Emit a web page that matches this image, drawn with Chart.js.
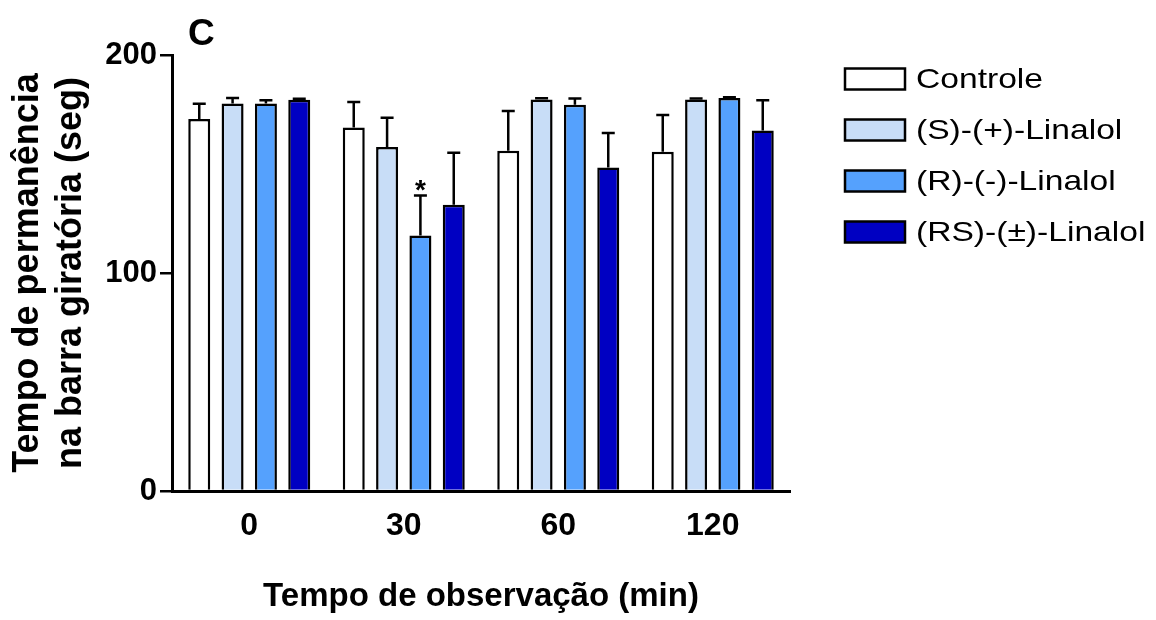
<!DOCTYPE html>
<html>
<head>
<meta charset="utf-8">
<script src="https://cdn.jsdelivr.net/npm/chart.js@4.4.1/dist/chart.umd.min.js"></script>
<style>
  html, body { margin: 0; padding: 0; background: #fff; }
  #wrap { width: 1156px; height: 620px; position: relative; }
</style>
</head>
<body>
<div id="wrap"><canvas id="myChart" width="1156" height="620"></canvas></div>
<script>
// data
const categories = ['0', '30', '60', '120'];
const seriesNames = ['Controle', '(S)-(+)-Linalol', '(R)-(-)-Linalol', '(RS)-(±)-Linalol'];
const controle = [170.6, 166.7, 156.1, 155.6];
const sLinalol = [177.8, 157.8, 179.6, 179.6];
const rLinalol = [177.8, 117.2, 177.2, 180.3];
const rsLinalol = [179.5, 131.3, 148.4, 165.4];
const controleSem = [7.0, 11.7, 18.2, 16.9];
const sLinalolSem = [2.5, 13.4, 0.6, 0.4];
const rLinalolSem = [1.4, 18.3, 2.9, 0.3];
const rsLinalolSem = [0.4, 23.9, 15.8, 13.8];
const rLinalolSig = ['', '*', '', ''];
const yTicks = [0, 100, 200];
const colors = ['#ffffff', '#c8ddf7', '#55a1fd', '#0000c2'];

const FONT = "'Liberation Sans', Arial, Helvetica, sans-serif";

const values = [controle, sLinalol, rLinalol, rsLinalol];
const sems = [controleSem, sLinalolSem, rLinalolSem, rsLinalolSem];
const sigs = [null, null, rLinalolSig, null];

// error bars (upper only) + significance marks
const errorBars = {
  id: 'errorBars',
  afterDatasetsDraw(chart) {
    const ctx = chart.ctx;
    const y = chart.scales.y;
    ctx.save();
    chart.data.datasets.forEach((ds, i) => {
      const meta = chart.getDatasetMeta(i);
      meta.data.forEach((bar, j) => {
        const top = y.getPixelForValue(ds.data[j] + ds.sem[j]);
        const base = bar.y;
        ctx.strokeStyle = '#000';
        ctx.lineWidth = 2.5;
        ctx.beginPath();
        ctx.moveTo(bar.x, base);
        ctx.lineTo(bar.x, top);
        ctx.moveTo(bar.x - 6.5, top);
        ctx.lineTo(bar.x + 6.5, top);
        ctx.stroke();
        if (ds.sig && ds.sig[j]) {
          ctx.fillStyle = '#000';
          ctx.font = 'bold 28px ' + FONT;
          ctx.textAlign = 'center';
          ctx.textBaseline = 'alphabetic';
          ctx.fillText(ds.sig[j], bar.x, top + 3);
        }
      });
    });
    ctx.restore();
  }
};

// panel letter and legend on the right
const extras = {
  id: 'extras',
  afterDraw(chart) {
    const ctx = chart.ctx;
    ctx.save();
    ctx.fillStyle = '#000';
    ctx.font = 'bold 37px ' + FONT;
    ctx.textAlign = 'left';
    ctx.textBaseline = 'alphabetic';
    ctx.fillText('C', 188, 45);

    ctx.font = '28px ' + FONT;
    ctx.textBaseline = 'middle';
    chart.data.datasets.forEach((ds, i) => {
      const cy = 79 + i * 51;
      ctx.fillStyle = ds.backgroundColor;
      ctx.fillRect(845, cy - 10.5, 60, 21);
      ctx.strokeStyle = '#000';
      ctx.lineWidth = 2.5;
      ctx.strokeRect(845, cy - 10.5, 60, 21);
      ctx.fillStyle = '#000';
      // the figure's text is a little wide, so stretch it
      ctx.save();
      ctx.translate(916, cy + 1);
      ctx.scale(1.2, 1);
      ctx.fillText(ds.label, 0, 0);
      ctx.restore();
    });
    ctx.restore();
  }
};

const ctx = document.getElementById('myChart').getContext('2d');
const chart = new Chart(ctx, {
  type: 'bar',
  data: {
    labels: categories,
    datasets: seriesNames.map((name, i) => ({
      label: name,
      data: values[i],
      sem: sems[i],
      sig: sigs[i],
      backgroundColor: colors[i],
      borderColor: '#000',
      borderWidth: 2.5,
      categoryPercentage: 0.863,
      barPercentage: 0.66
    }))
  },
  options: {
    responsive: false,
    animation: false,
    layout: { padding: { left: 0, right: 366, top: 55, bottom: 0 } },
    plugins: {
      legend: { display: false },
      tooltip: { enabled: false }
    },
    scales: {
      x: {
        grid: { display: true, drawOnChartArea: false, drawTicks: false },
        border: { display: true, color: '#000', width: 3 },
        ticks: {
          color: '#000',
          padding: 16,
          font: { family: FONT, size: 32, weight: 'bold' }
        },
        title: {
          display: true,
          text: 'Tempo de observação (min)',
          color: '#000',
          font: { family: FONT, size: 33, weight: 'bold', lineHeight: 1.2 },
          padding: { top: 0, bottom: 3 }
        },
        afterFit(scale) { scale.height = 129; }
      },
      y: {
        min: 0,
        max: 200,
        afterBuildTicks(scale) { scale.ticks = yTicks.map(v => ({ value: v })); },
        grid: { drawOnChartArea: false, drawTicks: true, tickLength: 12, color: '#000', lineWidth: 2.5 },
        border: { display: true, color: '#000', width: 3 },
        ticks: {
          color: '#000',
          padding: 3,
          font: { family: FONT, size: 31, weight: 'bold' }
        },
        title: {
          display: true,
          text: ['Tempo de permanência', 'na barra giratória (seg)'],
          color: '#000',
          font: { family: FONT, size: 36, weight: 'bold', lineHeight: 1.2 },
          padding: { top: 6, bottom: 0 }
        },
        afterFit(scale) { scale.width = 172; }
      }
    }
  },
  plugins: [errorBars, extras]
});
</script>
</body>
</html>
